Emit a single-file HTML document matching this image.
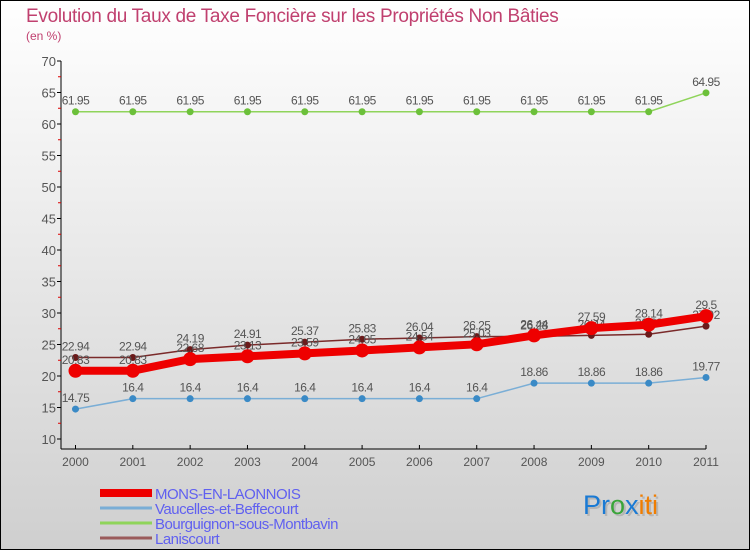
<!DOCTYPE html>
<html><head><meta charset="utf-8"><style>
html,body{margin:0;padding:0}
body{width:750px;height:550px;overflow:hidden;font-family:"Liberation Sans",sans-serif}
</style></head><body>
<svg id="chart" width="750" height="550" xmlns="http://www.w3.org/2000/svg">
<defs><linearGradient id="bg" x1="0" y1="0" x2="0" y2="1"><stop offset="0" stop-color="#ffffff"/><stop offset="1" stop-color="#cfcfcf"/></linearGradient></defs>
<rect x="0.5" y="0.5" width="749" height="549" fill="url(#bg)" stroke="#000"/>
<text x="26" y="22" font-size="19" fill="#c0406f" letter-spacing="-0.3">Evolution du Taux de Taxe Foncière sur les Propriétés Non Bâties</text>
<text x="26" y="40" font-size="12" fill="#c0406f">(en %)</text>
<g id="axes"></g><g id="series"></g><g id="legend"></g>
<text x="585" y="516" font-size="27" fill="#999" opacity="0.5">Proxiti</text>
<text x="583" y="514" font-size="27"><tspan fill="#1a7ad4">Pr</tspan><tspan fill="#3aa53a">o</tspan><tspan fill="#1a7ad4">x</tspan><tspan fill="#f07d00">iti</tspan></text>
</svg>
<script>
const years=[2000,2001,2002,2003,2004,2005,2006,2007,2008,2009,2010,2011];
const yTicks=[10,15,20,25,30,35,40,45,50,55,60,65,70];
const mons=[20.83,20.83,22.68,23.13,23.59,24.05,24.54,25.03,26.44,27.59,28.14,29.5];
const vauc=[14.75,16.4,16.4,16.4,16.4,16.4,16.4,16.4,18.86,18.86,18.86,19.77];
const bourg=[61.95,61.95,61.95,61.95,61.95,61.95,61.95,61.95,61.95,61.95,61.95,64.95];
const lanis=[22.94,22.94,24.19,24.91,25.37,25.83,26.04,26.25,26.28,26.44,26.63,27.92];
const seriesNames=["MONS-EN-LAONNOIS","Vaucelles-et-Beffecourt","Bourguignon-sous-Montbavin","Laniscourt"];
const NS="http://www.w3.org/2000/svg";
const X=i=>75.5+i*(706-75.5)/11;
const Y=v=>439-(v-10)*(439-61)/60;
function mk(t,a,p){const e=document.createElementNS(NS,t);for(const k in a)e.setAttribute(k,a[k]);p.appendChild(e);return e;}
const ax=document.getElementById('axes');
const yl=mk('line',{x1:61,y1:61,x2:61,y2:449,stroke:'#000'},ax);


const xl=mk('line',{x1:61,y1:449,x2:706,y2:449,stroke:'#000'},ax);


yTicks.forEach(v=>{
 mk('line',{x1:57,y1:Y(v),x2:61,y2:Y(v),stroke:'#000'},ax);
 if(v<70)mk('line',{x1:58,y1:Y(v+2.5),x2:61,y2:Y(v+2.5),stroke:'#d00'},ax);
 const t=mk('text',{x:56,y:Y(v)+5,'font-size':13,'text-anchor':'end',fill:'#555'},ax);t.textContent=v;
 
 
});
years.forEach((y,i)=>{
 mk('line',{x1:X(i),y1:445,x2:X(i),y2:449,stroke:'#000'},ax);
 const t=mk('text',{x:X(i),y:466,'font-size':12,'text-anchor':'middle',fill:'#555'},ax);t.textContent=y;
 
 
});
const sg=document.getElementById('series');
function draw(vals,color,w,r,name,dark){
 const g=mk('g',{},sg);
 
 
 mk('polyline',{points:vals.map((v,i)=>X(i)+','+Y(v)).join(' '),fill:'none',stroke:color,'stroke-width':w},g);
 vals.forEach((v,i)=>{
  const c=mk('circle',{cx:X(i),cy:Y(v),r:r,fill:dark||color},g);
  
  
  const t=mk('text',{x:X(i),y:Y(v)-7,'font-size':12,'text-anchor':'middle',fill:'#555','letter-spacing':'-0.5'},g);t.textContent=v;
 });
}
draw(bourg,'#8fd45a',1.5,3.5,'series-bourguignon','#6cc03a');
draw(vauc,'#7aaed6',1.5,3.5,'series-vaucelles','#3a8ac6');
draw(lanis,'#7a2a2a',1.5,3.5,'series-laniscourt','#6a1a1a');
draw(mons,'#ee0000',8,7,'series-mons','#ee0000');
const lg=document.getElementById('legend');
const lc=['#ee0000','#7aaed6','#8fd45a','#9a5a5a'],lw=[8,3,3,3];
seriesNames.forEach((n,i)=>{
 const yy=493+i*15;
 const g=mk('g',{},lg);
 
 
 mk('line',{x1:100,y1:yy,x2:152,y2:yy,stroke:lc[i],'stroke-width':lw[i]},g);
 const t=mk('text',{x:155,y:yy+6,'font-size':15,fill:'#6060f0','letter-spacing':'-0.5'},g);t.textContent=n;
});
</script>
</body></html>
